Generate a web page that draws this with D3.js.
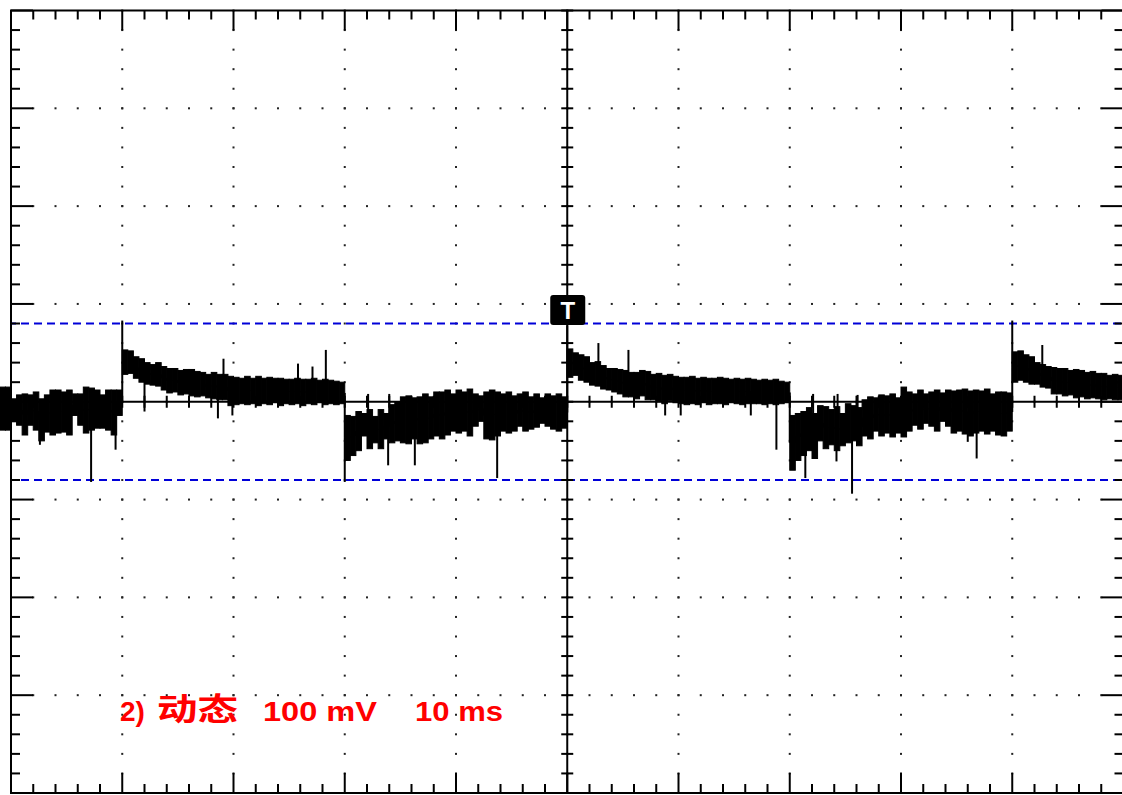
<!DOCTYPE html>
<html>
<head>
<meta charset="utf-8">
<script src="https://cdn.jsdelivr.net/npm/d3@7"></script>
<style>
  html, body { margin: 0; padding: 0; background: #fff; }
  svg { display: block; }
</style>
</head>
<body>
<script>
// scope settings: 10 ms/div, 100 mV/div
const timeTicks = [0, 10, 20, 30, 40, 50, 60, 70, 80, 90, 100];
const voltTicks = [-400, -300, -200, -100, 0, 100, 200, 300, 400];
const cursorLevels = [80, -80];
const label = ['2)', '动态', '100 mV', '10 ms'];

// peak-detect envelope, one bin every 0.5 ms starting at -1 ms (mV)
const binStart = -1;
const binMs = 0.5;
const traceHi = [
  15, 15,
  3, 7, 8, 7, 10, 3, 7, 12, 12, 10, 12, 8, 8, 15, 14, 12, 7, 12, 12, 12,
  53, 52, 46, 44, 40, 38, 40, 36, 34, 34, 32, 33, 33, 31, 30, 28, 30, 28, 28, 26,
  25, 24, 26, 24, 26, 24, 25, 24, 24, 23, 23, 24, 23, 23, 24, 22, 23, 22, 21, 20,
  -14, -15, -10, -12, -8, -15, -8, -12, -3, 0, 5, 6, 4, 5, 8, 5, 10, 10, 12, 8,
  12, 10, 13, 8, 6, 10, 12, 10, 8, 10, 6, 8, 10, 5, 8, 4, 8, 6, 8, 5,
  54, 50, 48, 46, 40, 41, 37, 34, 34, 33, 32, 30, 30, 32, 31, 28, 29, 27, 28, 26,
  25, 25, 26, 24, 25, 24, 24, 25, 24, 23, 24, 23, 24, 23, 22, 23, 22, 23, 21, 20,
  -14, -12, -10, -6, -12, -4, -5, -8, -5, -12, -2, -4, -6, 2, 5, 4, 7, 6, 8, 4,
  15, 10, 8, 12, 8, 10, 12, 9, 12, 11, 12, 13, 11, 12, 11, 13, 8, 10, 10, 9,
  51, 52, 48, 46, 40, 38, 36, 35, 34, 34, 32, 33, 32, 30, 31, 29, 29, 27, 28, 27
];
const traceLo = [
  -29, -29,
  -20, -24, -34, -24, -29, -40, -31, -34, -32, -31, -34, -14, -24, -32, -29, -27, -27, -29, -34, -14,
  28, 29, 24, 20, 18, 17, 16, 12, 9, 10, 7, 8, 6, 5, 6, 4, 3, 2, 2, -4,
  -3, -2, -3, -2, -4, -2, -3, -1, -4, -2, -3, -2, -4, -2, -3, -1, -3, -2, -3, -2,
  -60, -55, -50, -35, -48, -42, -48, -38, -42, -40, -42, -43, -38, -43, -42, -38, -35, -38, -34, -30,
  -32, -30, -35, -25, -20, -38, -39, -35, -30, -32, -30, -25, -30, -28, -26, -22, -25, -28, -30, -27,
  25, 27, 22, 20, 17, 16, 13, 12, 10, 8, 5, 5, 3, 6, 2, 2, 0, -2, 1, -1,
  -2, -3, -2, -3, -1, -3, -2, -2, -3, -1, -2, -3, -2, -2, -2, -3, -2, -3, -2, -1,
  -70, -60, -55, -50, -58, -40, -48, -44, -50, -45, -42, -40, -45, -35, -38, -30, -35, -32, -36, -32,
  -36, -30, -24, -28, -22, -25, -30, -20, -25, -32, -30, -33, -35, -32, -30, -33, -30, -34, -35, -30,
  20, 22, 20, 18, 18, 15, 14, 8, 8, 6, 7, 4, 5, 3, 4, 3, 2, 3, 2, 2
];
// single glitches (ms, mV)
const spikeTimes = [2.6, 7.2, 9.4, 10.0, 12.0, 18.6, 19.1, 19.9, 25.8, 27.1, 28.3, 30.0, 32.1, 33.9, 34.0, 36.3, 43.7,
  50.0, 52.8, 55.5, 58.8, 60.2, 66.5, 68.8, 71.4, 72.1, 74.2, 74.3, 75.6, 76.1, 86.0, 86.8, 90.0, 92.7];
const spikeValues = [-44, -82, -49, 83, -10, -17, 44, -14, 39, 36, 53, -82, 8, -65, 8, -65, -78,
  78, 60, 53, -14, -14, -14, -49, -78, 8, -61, 8, -94, 7, -41, -58, 83, 58];

const w = 1122;
const h = 795;

const svg = d3.select('body')
  .append('svg')
  .attr('width', w)
  .attr('height', h)
  .attr('viewBox', '0 0 ' + w + ' ' + h);

const xScale = d3.scaleLinear().domain([0, 100]).range([11, 1123.5]);
const yScale = d3.scaleLinear().domain([-400, 400]).range([793, 10.5]);

const minorX = d3.range(0, 100.001, 2);
const minorY = d3.range(-400, 400.001, 20);

// dotted graticule
const dots = svg.append('g').attr('fill', '#222');
timeTicks.slice(1, -1).forEach((t) => {
  dots.selectAll(null)
    .data(minorY)
    .enter()
    .append('rect')
    .attr('x', xScale(t) - 1)
    .attr('y', (v) => yScale(v) - 1)
    .attr('width', 2)
    .attr('height', 2);
});
voltTicks.slice(1, -1).forEach((v) => {
  dots.selectAll(null)
    .data(minorX)
    .enter()
    .append('rect')
    .attr('x', (t) => xScale(t) - 1)
    .attr('y', yScale(v) - 1)
    .attr('width', 2)
    .attr('height', 2);
});

// cursors
svg.selectAll('.cursor')
  .data(cursorLevels)
  .enter()
  .append('line')
  .attr('class', 'cursor')
  .attr('x1', xScale(0))
  .attr('x2', xScale(100))
  .attr('y1', (d) => yScale(d))
  .attr('y2', (d) => yScale(d))
  .attr('stroke', '#0000d8')
  .attr('stroke-width', 2)
  .attr('stroke-dasharray', '8,5')
  .attr('stroke-dashoffset', -10);

// centre cross with small ticks
const cross = svg.append('g').attr('stroke', '#000').attr('stroke-width', 2);
cross.append('line')
  .attr('x1', xScale(0)).attr('x2', xScale(100))
  .attr('y1', yScale(0)).attr('y2', yScale(0));
cross.append('line')
  .attr('x1', xScale(50)).attr('x2', xScale(50))
  .attr('y1', yScale(400)).attr('y2', yScale(-400));
cross.selectAll('.cx')
  .data(minorX)
  .enter()
  .append('line')
  .attr('x1', (t) => xScale(t)).attr('x2', (t) => xScale(t))
  .attr('y1', yScale(0) - 6).attr('y2', yScale(0) + 6);
cross.selectAll('.cy')
  .data(minorY)
  .enter()
  .append('line')
  .attr('x1', xScale(50) - 6).attr('x2', xScale(50) + 6)
  .attr('y1', (v) => yScale(v)).attr('y2', (v) => yScale(v));

// frame ticks
const frame = svg.append('g').attr('stroke', '#000').attr('stroke-width', 2);
minorX.forEach((t) => {
  const len = t % 10 === 0 ? 20 : 9;
  frame.append('line').attr('x1', xScale(t)).attr('x2', xScale(t))
    .attr('y1', yScale(400)).attr('y2', yScale(400) + len);
  frame.append('line').attr('x1', xScale(t)).attr('x2', xScale(t))
    .attr('y1', yScale(-400)).attr('y2', yScale(-400) - len);
});
minorY.forEach((v) => {
  const len = v % 100 === 0 ? 22 : 9;
  frame.append('line').attr('x1', xScale(0)).attr('x2', xScale(0) + len)
    .attr('y1', yScale(v)).attr('y2', yScale(v));
  frame.append('line').attr('x1', xScale(100)).attr('x2', xScale(100) - len)
    .attr('y1', yScale(v)).attr('y2', yScale(v));
});
frame.append('rect')
  .attr('x', xScale(0))
  .attr('y', yScale(400))
  .attr('width', xScale(100) - xScale(0))
  .attr('height', yScale(-400) - yScale(400))
  .attr('fill', 'none');

// trace
const bins = traceHi.map((hi, i) => ({t: binStart + i * binMs, hi: hi, lo: traceLo[i]}));
const trace = svg.append('g');
trace.selectAll('rect')
  .data(bins)
  .enter()
  .append('rect')
  .attr('x', (d) => xScale(d.t))
  .attr('y', (d) => yScale(d.hi))
  .attr('width', (d) => xScale(d.t + binMs) - xScale(d.t))
  .attr('height', (d) => yScale(d.lo) - yScale(d.hi))
  .attr('fill', '#000')
  .attr('stroke', '#000')
  .attr('stroke-width', 1);

const mid = (d) => (d.hi + d.lo) / 2;
trace.selectAll('.join')
  .data(bins.slice(1))
  .enter()
  .append('line')
  .attr('x1', (d) => xScale(d.t)).attr('x2', (d) => xScale(d.t))
  .attr('y1', (d, i) => yScale(mid(bins[i])))
  .attr('y2', (d) => yScale(mid(d)))
  .attr('stroke', '#000')
  .attr('stroke-width', 2);

trace.selectAll('.spike')
  .data(spikeTimes)
  .enter()
  .append('line')
  .attr('x1', (t) => xScale(t)).attr('x2', (t) => xScale(t))
  .attr('y1', (t) => yScale(mid(bins[Math.floor((t - binStart) / binMs)])))
  .attr('y2', (t, i) => yScale(spikeValues[i]))
  .attr('stroke', '#000')
  .attr('stroke-width', 2);

// trigger marker
svg.append('rect')
  .attr('x', xScale(50) - 17)
  .attr('y', 295)
  .attr('width', 35)
  .attr('height', 30)
  .attr('rx', 3)
  .attr('fill', '#000');
svg.append('text')
  .attr('x', xScale(50) + 0.5)
  .attr('y', 319)
  .attr('text-anchor', 'middle')
  .attr('font-family', '"Liberation Sans", Arial, sans-serif')
  .attr('font-weight', 'bold')
  .attr('font-size', 24)
  .attr('fill', '#fff')
  .text('T');

// channel label
const labelX = [120, 157, 263, 415];
const labelLen = [0, 81, 114, 88];
const labels = svg.selectAll('.label')
  .data(label)
  .enter()
  .append('text')
  .attr('class', 'label')
  .attr('x', (d, i) => labelX[i])
  .attr('y', (d, i) => i === 1 ? 720 : 721)
  .attr('font-family', '"Liberation Sans", Arial, "Noto Sans CJK SC", sans-serif')
  .attr('font-weight', 'bold')
  .attr('font-size', (d, i) => i === 1 ? 31 : 28)
  .attr('fill', '#ff0000')
  .text((d) => d);
labels.filter((d, i) => labelLen[i] > 0)
  .attr('textLength', (d) => labelLen[label.indexOf(d)])
  .attr('lengthAdjust', 'spacingAndGlyphs');
</script>
</body>
</html>
